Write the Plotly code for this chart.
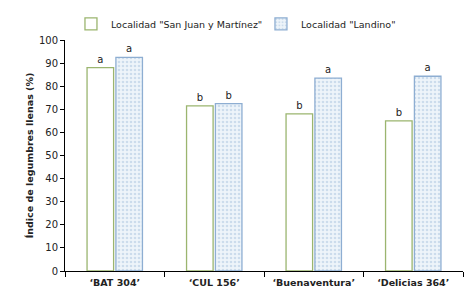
import plotly.graph_objects as go

categories = ["‘BAT 304’", "‘CUL 156’", "‘Buenaventura’", "‘Delicias 364’"]
san_juan = [88, 71.5, 68, 65]
landino = [92.5, 72.5, 83.5, 84.3]
san_juan_letters = ["a", "b", "b", "b"]
landino_letters = ["a", "b", "a", "a"]
series_names = ['Localidad "San Juan y Martínez"', 'Localidad "Landino"']

FONT = "DejaVu Sans"

fig = go.Figure()
fig.add_trace(go.Bar(
    x=categories, y=san_juan, name=series_names[0],
    text=san_juan_letters, textposition="outside",
    textfont=dict(family=FONT, size=10, color="#222"),
    marker=dict(color="white", line=dict(color="#9bb56f", width=1.3)),
    cliponaxis=False,
))
fig.add_trace(go.Bar(
    x=categories, y=landino, name=series_names[1],
    text=landino_letters, textposition="outside",
    textfont=dict(family=FONT, size=10, color="#222"),
    marker=dict(color="#e3edf7", line=dict(color="#8eaed2", width=1.3),
                pattern=dict(shape=".", fgcolor="#a9c3de", bgcolor="#eef4fa", size=4, solidity=0.35)),
    cliponaxis=False,
))

fig.update_layout(
    width=467, height=287,
    margin=dict(l=57, r=12, t=32, b=24, autoexpand=False),
    paper_bgcolor="white", plot_bgcolor="white",
    barmode="group", bargap=0.42, bargroupgap=0.08,
    font=dict(family=FONT, size=10, color="#222"),
    showlegend=True,
    legend=dict(orientation="h", x=0.015, xanchor="left", y=1.07, yanchor="middle",
                font=dict(family=FONT, size=9.5, color="#222"),
                entrywidth=145, entrywidthmode="pixels",
                itemwidth=30, bgcolor="rgba(0,0,0,0)"),
)
fig.update_xaxes(
    showline=True, linecolor="black", linewidth=1,
    ticks="outside", ticklen=5, tickcolor="black", tickson="boundaries",
    ticklabelstandoff=3,
    tickfont=dict(family=FONT, size=9.5, color="#222", weight="bold"),
    showgrid=False,
)
fig.update_yaxes(
    range=[0, 100], dtick=10,
    showline=True, linecolor="black", linewidth=1,
    ticks="outside", ticklen=4, tickcolor="black",
    tickfont=dict(family=FONT, size=10, color="#222"),
    showgrid=False, zeroline=False,
    title=dict(text="<b>Índice de legumbres llenas (%)</b>", standoff=3,
               font=dict(family=FONT, size=9.5, color="#222")),
)

fig.write_html("out.html")
